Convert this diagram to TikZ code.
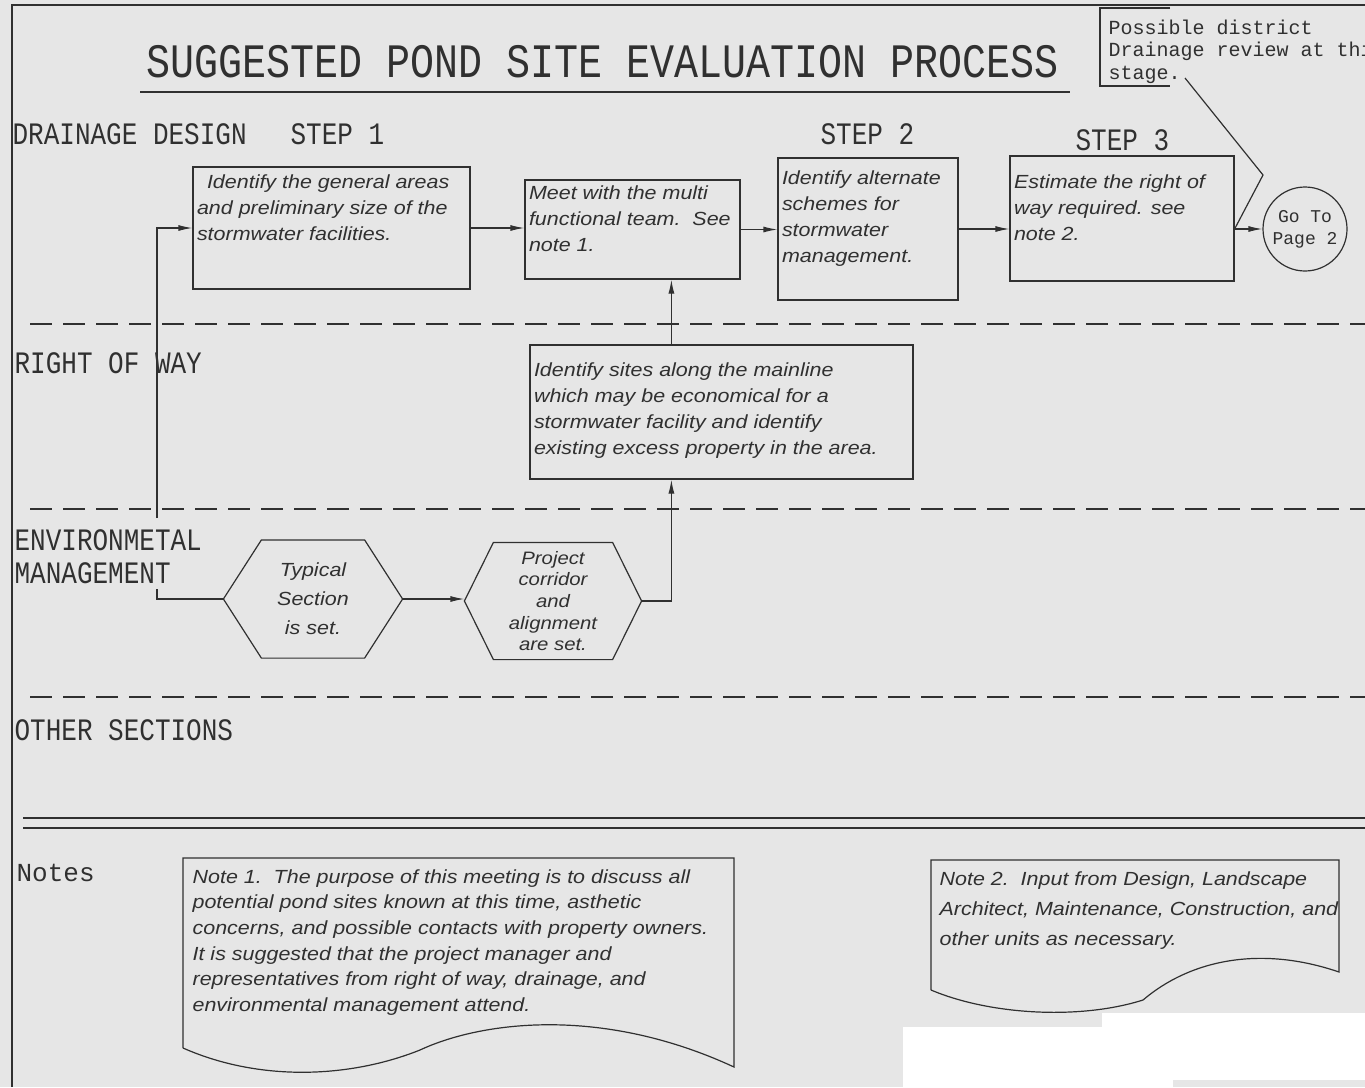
\documentclass[tikz,border=0pt]{standalone}
\usepackage{fontspec}
\usepackage{graphicx}
\setmainfont{Liberation Sans}[FakeStretch=1.13]
\newfontfamily\cadfont{Liberation Mono}
\usetikzlibrary{arrows.meta}
\definecolor{sheetgray}{HTML}{E6E6E6}
\definecolor{inkgray}{HTML}{303030}
\def\capstretch{1.2}
\def\hexpoint{38pt}
\newcommand\cadcaps[1]{\scalebox{1}[\capstretch]{#1}}
\newcommand\toptext[4]{%
    % #1: box height
    % #2: text width
    % #3: gap above the first line
    % #4: lines, split by \\
    \parbox[c][#1][t]{#2}{\vspace*{#3}\begin{tabular}{@{}l@{}}#4\end{tabular}}%
}
\newcommand\hexoutline[2]{%
    % #1: node name
    % #2: depth of the side points
    \draw (#1.west) -- ([xshift=#2]#1.north west) -- ([xshift=-#2]#1.north east)
        -- (#1.east) -- ([xshift=-#2]#1.south east) -- ([xshift=#2]#1.south west) -- cycle;
}

\begin{document}
\begin{tikzpicture}[
        x=1pt,y=-1pt,
        color=inkgray,
        line width=1.2pt,
        stepbox/.style={draw,rectangle,inner xsep=4pt,inner ysep=0pt,
            font=\itshape\fontsize{19}{26}\selectfont},
        hexbox/.style={rectangle,inner sep=0pt,align=center},
        notetext/.style={anchor=north west,inner sep=0pt,align=left},
        lanelabel/.style={anchor=west,inner sep=0pt,font=\cadfont\fontsize{26}{30}\selectfont},
        lanesep/.style={dash pattern=on 22pt off 11pt},
        flow/.style={-{Latex[length=14pt,width=6pt]}},
    ]
    \useasboundingbox (0,0) rectangle (1365,1087);
    \fill[sheetgray] (0,0) rectangle (1365,1087);
    \fill[white] (903,1027) -- (1102,1027) -- (1102,1013) -- (1365,1013) -- (1365,1087) -- (903,1087) -- cycle;
    \fill[sheetgray] (1173,1080) rectangle (1365,1087);
    \draw (12,1087) -- (12,5) -- (1365,5);

    % title
    \node[inner sep=0pt,font=\cadfont\fontsize{40}{44}\selectfont] (title) at (603,62)
        {\cadcaps{SUGGESTED POND SITE EVALUATION PROCESS}};
    \draw (140,92) -- (1070,92);

    % lanes
    \foreach \laney in {324,509,697}
        \draw[lanesep] (30,\laney) -- (1365,\laney);
    \draw (23,818) -- (1365,818);
    \draw (23,828) -- (1365,828);

    \node[lanelabel] (drainlane) at (12,134) {\cadcaps{DRAINAGE DESIGN}};
    \node[lanelabel] (stepone) at (290,134) {\cadcaps{STEP 1}};
    \node[lanelabel] (steptwo) at (820,134) {\cadcaps{STEP 2}};
    \node[lanelabel] (stepthree) at (1075,140) {\cadcaps{STEP 3}};
    \node[lanelabel] (rowlane) at (14,363) {\cadcaps{RIGHT OF WAY}};
    \node[lanelabel] (envlane) at (14,540) {\cadcaps{ENVIRONMETAL}};
    \node[lanelabel] (mgmtlane) at (14,573) {\cadcaps{MANAGEMENT}};
    \node[lanelabel] (otherlane) at (14,730) {\cadcaps{OTHER SECTIONS}};
    \node[lanelabel] (noteslane) at (16,873) {Notes};

    % drainage design row
    \node[stepbox] (idarea) at (331.5,228)
        {\toptext{122pt}{269pt}{3.4pt}{\hspace*{10pt}Identify the general areas\\and preliminary size of the\\stormwater facilities.}};
    \node[stepbox] (meetteam) at (632.5,229.5)
        {\toptext{99pt}{207pt}{1.4pt}{Meet with the multi\\functional team.~~See\\note 1.}};
    \node[stepbox] (altschemes) at (868,229)
        {\toptext{142pt}{172pt}{8.4pt}{Identify alternate\\schemes for\\stormwater\\management.}};
    \node[stepbox] (estrow) at (1122,218.5)
        {\toptext{125pt}{216pt}{14.4pt}{Estimate the right of\\way required. see\\note 2.}};
    \node[draw,circle,minimum size=84pt,inner sep=0pt,align=center,
        font=\cadfont\fontsize{18}{22}\selectfont] (gopage) at (1305,229) {Go To\\Page 2};

    % district review callout
    \draw (1170,8) -- (1100,8) -- (1100,86) -- (1170,86);
    \node[notetext,font=\cadfont\fontsize{20}{22.5}\selectfont] (possdrain) at (1108,19)
        {Possible district\\Drainage review at this\\stage.};
    \coordinate (calloutstart) at (1185,78);
    \coordinate (calloutbend) at (1263,175);
    \draw (calloutstart) -- (calloutbend) -- (gopage.west -| estrow.east);

    % right of way row
    \node[stepbox] (idsites) at (721.5,412)
        {\toptext{134pt}{375pt}{13.4pt}{Identify sites along the mainline\\which may be economical for a\\stormwater facility and identify\\existing excess property in the area.}};
    \coordinate (rowtap) at ([xshift=142pt]idsites.north west);
    \coordinate (rowfoot) at ([xshift=142pt]idsites.south west);

    % environmental management row
    \node[hexbox,minimum width=178pt,minimum height=117pt,
        font=\itshape\fontsize{19}{29}\selectfont] (typsec) at (313,599) {Typical\\Section\\is set.};
    \hexoutline{typsec}{\hexpoint}
    \node[hexbox,minimum width=176pt,minimum height=116pt,
        font=\itshape\fontsize{18}{21.7}\selectfont] (corridor) at (553,601)
        {Project\\corridor\\and\\alignment\\are set.};
    \hexoutline{corridor}{29pt}

    % connectors
    \coordinate (envtop) at (157,518);
    \coordinate (envfoot) at (157,589);
    \draw[flow] (envtop) |- (idarea.west);
    \draw (envfoot) |- (typsec.west);
    \draw[flow] (typsec.east) -- (typsec.east -| corridor.west);
    \draw[flow] (corridor.east) -| (rowfoot);
    \draw[flow] (rowtap) -- (rowtap |- meetteam.south);
    \draw[flow] (idarea.east) -- (idarea.east -| meetteam.west);
    \draw[flow] (meetteam.east) -- (meetteam.east -| altschemes.west);
    \draw[flow] (altschemes.east) -- (altschemes.east -| estrow.west);
    \draw[flow] (gopage.west -| estrow.east) -- (gopage.west);

    % notes
    \draw (183,1048) -- (183,858) -- (734,858) -- (734,1067)
        .. controls (600,1005) and (480,1022) .. (420,1050)
        .. controls (350,1078) and (260,1082) .. (183,1048);
    \node[notetext,font=\itshape\fontsize{19}{25.6}\selectfont] (noteone) at (192,869)
        {Note 1.~~The purpose of this meeting is to discuss all\\
        potential pond sites known at this time, asthetic\\
        concerns, and possible contacts with property owners.\\
        It is suggested that the project manager and\\
        representatives from right of way, drainage, and\\
        environmental management attend.};
    \draw (931,990) -- (931,860) -- (1339,860) -- (1339,972)
        .. controls (1260,945) and (1190,960) .. (1143,1000)
        .. controls (1080,1020) and (990,1015) .. (931,990);
    \node[notetext,font=\itshape\fontsize{19}{30}\selectfont] (notetwo) at (939,871)
        {Note 2.~~Input from Design, Landscape\\
        Architect, Maintenance, Construction, and\\
        other units as necessary.};
\end{tikzpicture}
\end{document}
